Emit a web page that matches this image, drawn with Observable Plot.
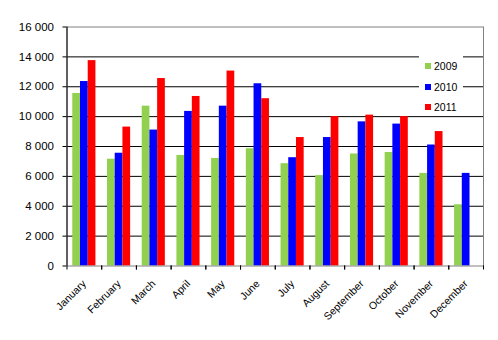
<!DOCTYPE html>
<html><head><meta charset="utf-8">
<script src="https://cdn.jsdelivr.net/npm/d3@7"></script>
<script src="https://cdn.jsdelivr.net/npm/@observablehq/plot@0.6"></script>
<style>
body{margin:0;background:#fff;}
#chart{position:relative;width:498px;height:340px;font-family:"Liberation Sans",Arial,sans-serif;}
#legend{position:absolute;left:419px;top:51px;width:44px;height:62px;background:#fff;font-size:10.5px;color:#000;}
#legend .item{position:absolute;left:6px;height:12px;line-height:12px;white-space:nowrap;}
#legend .sw{display:inline-block;width:6px;height:6px;margin-right:3px;vertical-align:1px;}
</style></head><body><div id="chart"></div>
<script>
const months = ["January","February","March","April","May","June","July","August","September","October","November","December"];
const series = ["2009","2010","2011"];
const v2009 = [11550, 7150, 10700, 7400, 7200, 7850, 6850, 6050, 7500, 7600, 6200, 4100];
const v2010 = [12350, 7550, 9100, 10350, 10700, 12200, 7250, 8600, 9650, 9500, 8100, 6200];
const v2011 = [13750, 9300, 12550, 11350, 13050, 11200, 8600, 10000, 10100, 10000, 9000, null];
const colors = ["#92D050", "#0000FF", "#FF0000"];
const yTicks = [0, 2000, 4000, 6000, 8000, 10000, 12000, 14000, 16000];
const gridTicks = [2000, 4000, 6000, 8000, 10000, 12000, 14000];

const values = [v2009, v2010, v2011];
const data = months.flatMap((m, i) => series.map((s, j) => ({month: m, series: s, value: values[j][i]})))
  .filter(d => d.value != null);

const W = 498, H = 340, ml = 66.5, mr = 15, mt = 26.5, mb = 74.5;
const step = (W - ml - mr) / months.length;
const outerPad = 0.75;
const bw = step / (series.length + 2 * outerPad);
const fmt = d3.formatLocale({decimal: ".", thousands: "\u00a0", grouping: [3], currency: ["", ""]}).format(",d");

const barMarks = series.map((s, j) => {
  const left = bw * (outerPad + j);
  return Plot.barY(data.filter(d => d.series === s), {
    x: "month", y: "value", fill: "series",
    insetLeft: left, insetRight: step - left - bw
  });
});

const plot = Plot.plot({
  width: W, height: H,
  marginLeft: ml, marginRight: mr, marginTop: mt, marginBottom: mb,
  style: {fontFamily: "'Liberation Sans', Arial, sans-serif", fontSize: "11px", background: "white", color: "black"},
  x: {domain: months, padding: 0, round: false, label: null},
  y: {domain: [0, 16000], label: null},
  color: {domain: series, range: colors},
  marks: [
    Plot.gridY(gridTicks, {stroke: "black", strokeOpacity: 1}),
    ...barMarks,
    Plot.frame({stroke: "#808080"}),
    Plot.ruleX([months[0]], {x: d => d, dx: -step / 2, stroke: "black"}),
    Plot.axisY(yTicks, {tickSize: 4, tickPadding: 9, tickFormat: fmt, fontSize: 11.5, label: null}),
    Plot.axisX({anchor: "bottom", tickSize: 0, tickRotate: -45, tickPadding: 16, fontSize: 10.5, label: null}),
    Plot.axisX({anchor: "bottom", text: null, tickSize: 4, dx: -step / 2, label: null}),
    Plot.axisX({anchor: "bottom", text: null, tickSize: 4, dx: step / 2, label: null})
  ]
});
const chart = document.getElementById("chart");
chart.appendChild(plot);

const legend = document.createElement("div");
legend.id = "legend";
series.forEach((s, i) => {
  const it = document.createElement("div");
  it.className = "item";
  it.style.top = (9 + i * 20.5) + "px";
  it.innerHTML = `<span class="sw" style="background:${colors[i]}"></span>${s}`;
  legend.appendChild(it);
});
chart.appendChild(legend);
</script>
</body></html>
